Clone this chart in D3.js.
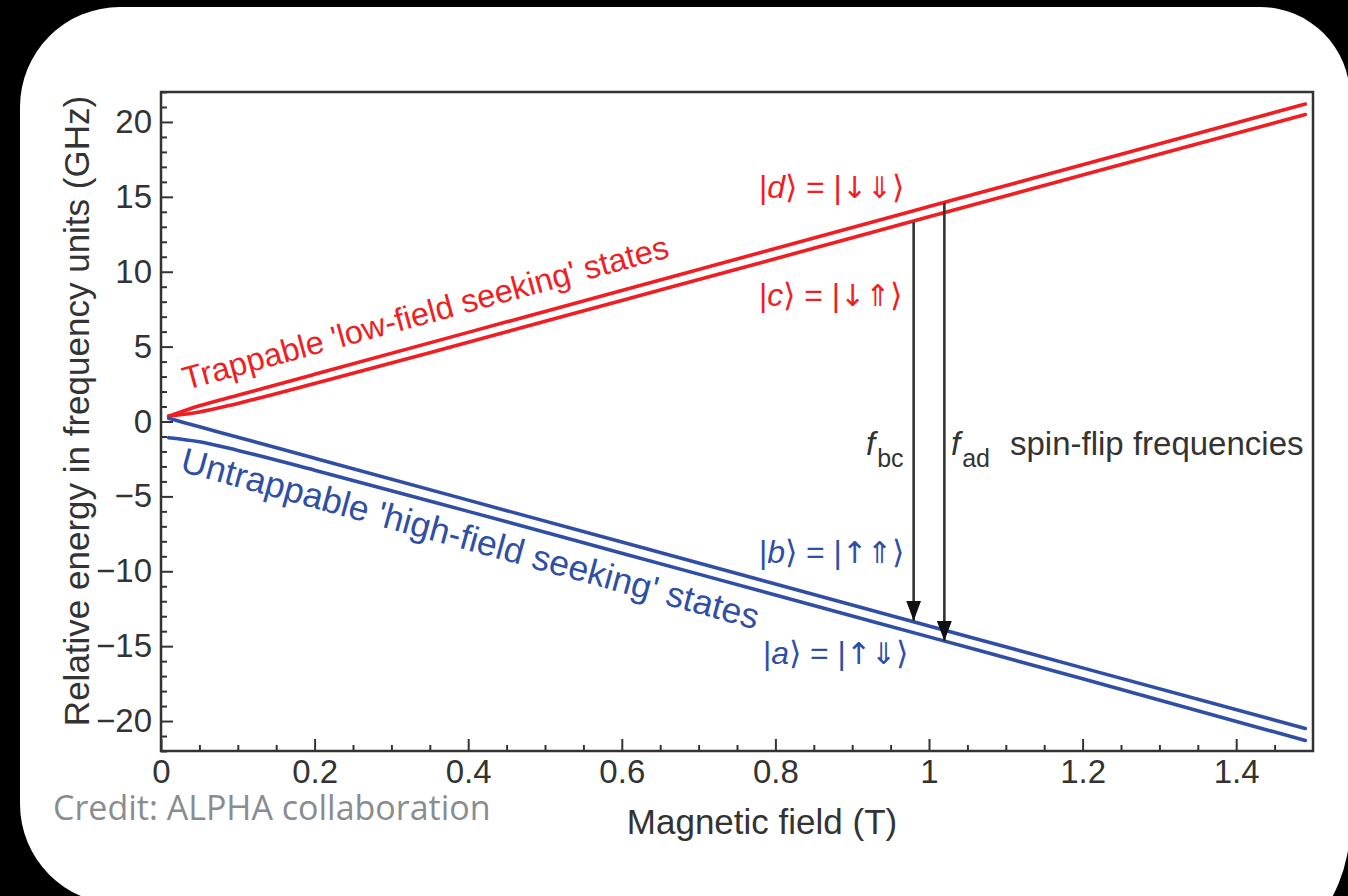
<!DOCTYPE html>
<html>
<head>
<meta charset="utf-8">
<script src="https://cdn.jsdelivr.net/npm/d3@7"></script>
<style>
  html, body { margin: 0; padding: 0; background: #000; }
  svg { display: block; }
  text { font-family: "Liberation Sans", Arial, Helvetica, sans-serif; }
</style>
</head>
<body>
<svg id="chart" width="1348" height="896"></svg>
<script>
// Magnetic field values (T) at which the four hyperfine levels are sampled
const fieldT = [0.01, 0.05, 0.1, 0.2, 0.4, 0.6, 0.8, 1.0, 1.2, 1.49];

// Relative energy of each state, in frequency units (GHz)
const stateD = [0.35, 1.05, 1.75, 3.15, 5.95, 8.75, 11.55, 14.35, 17.15, 21.2];
const stateC = [0.37, 0.64, 1.21, 2.53, 5.29, 8.08, 10.87, 13.67, 16.46, 20.5];
const stateB = [0.21, -0.35, -1.05, -2.45, -5.25, -8.05, -10.85, -13.65, -16.45, -20.5];
const stateA = [-1.08, -1.35, -1.93, -3.25, -6.0, -8.79, -11.59, -14.38, -17.17, -21.3];

// Spin-flip transitions: field, upper level energy, lower level energy
const flipNames = ["bc", "ad"];
const flipField = [0.98, 1.02];
const flipFrom = [13.3, 14.6];
const flipTo = [-13.3, -14.65];

// Axis ticks
const xTicks = [0, 0.2, 0.4, 0.6, 0.8, 1.0, 1.2, 1.4];
const yTicks = [-20, -15, -10, -5, 0, 5, 10, 15, 20];

const RED = "#f01e23";
const BLUE = "#2f4fa6";
const INK = "#333333";

const svg = d3.select("#chart");

// Rounded white card on the black page
svg.append("path")
  .attr("d", "M20,107 A100,100 0 0 1 120,7 L1260,7 A90,90 0 0 1 1350,97 L1350,826 A150,150 0 0 1 1200,976 L120,976 L120,904 A100,100 0 0 1 20,804 Z")
  .attr("fill", "#fff");

const x = d3.scaleLinear().domain([0, 1.5]).range([161, 1313]);
const y = d3.scaleLinear().domain([-22, 22]).range([751, 92]);

// Minor ticks
svg.append("g")
  .attr("transform", `translate(0,${y(-22)})`)
  .call(d3.axisBottom(x).tickValues(d3.range(0, 1.5, 0.05).filter(v => Math.abs(v * 5 - Math.round(v * 5)) > 1e-6)).tickSize(-6).tickFormat(""))
  .call(g => g.select(".domain").remove())
  .call(g => g.selectAll("line").attr("stroke", INK).attr("stroke-width", 2));
svg.append("g")
  .attr("transform", `translate(${x(0)},0)`)
  .call(d3.axisLeft(y).tickValues(d3.range(-22, 23, 1).filter(v => v % 5 !== 0)).tickSize(-6).tickFormat(""))
  .call(g => g.select(".domain").remove())
  .call(g => g.selectAll("line").attr("stroke", INK).attr("stroke-width", 2));

// Major ticks and labels
const xAxis = svg.append("g")
  .attr("transform", `translate(0,${y(-22)})`)
  .call(d3.axisBottom(x).tickValues(xTicks).tickSize(-12).tickPadding(9).tickFormat(d3.format("~g")));
const yAxis = svg.append("g")
  .attr("transform", `translate(${x(0)},0)`)
  .call(d3.axisLeft(y).tickValues(yTicks).tickSize(-12).tickPadding(9));
[xAxis, yAxis].forEach(g => {
  g.select(".domain").remove();
  g.selectAll("line").attr("stroke", INK).attr("stroke-width", 2);
  g.selectAll("text").attr("fill", INK).style("font-size", "33px")
    .style("font-family", "'Liberation Sans', Arial, sans-serif");
});

// Plot frame
svg.append("rect")
  .attr("x", x(0)).attr("y", y(22))
  .attr("width", x(1.5) - x(0)).attr("height", y(-22) - y(22))
  .attr("fill", "none").attr("stroke", INK).attr("stroke-width", 2.5);

// Energy levels
const line = d3.line()
  .x((d, i) => x(fieldT[i]))
  .y(d => y(d))
  .curve(d3.curveMonotoneX);
[[stateD, RED], [stateC, RED], [stateB, BLUE], [stateA, BLUE]].forEach(([vals, col]) => {
  svg.append("path")
    .attr("d", line(vals))
    .attr("fill", "none")
    .attr("stroke", col)
    .attr("stroke-width", 3.6)
    .attr("stroke-linecap", "round");
});

// Arrowhead
svg.append("defs").append("marker")
  .attr("id", "head")
  .attr("markerUnits", "userSpaceOnUse")
  .attr("viewBox", "0 -8 21 16")
  .attr("refX", 20).attr("refY", 0)
  .attr("markerWidth", 21).attr("markerHeight", 16)
  .attr("orient", "auto")
  .append("path")
  .attr("d", "M0,-7.5 L20,0 L0,7.5 Z")
  .attr("fill", "#111");

flipNames.forEach((n, i) => {
  svg.append("line")
    .attr("x1", x(flipField[i])).attr("x2", x(flipField[i]))
    .attr("y1", y(flipFrom[i])).attr("y2", y(flipTo[i]))
    .attr("stroke", INK).attr("stroke-width", 2.6)
    .attr("marker-end", "url(#head)");
});

// Transition labels
function freqLabel(px, name) {
  const t = svg.append("text").attr("x", px).attr("y", 455).attr("fill", INK).style("font-size", "33px");
  t.append("tspan").style("font-style", "italic").text("f");
  t.append("tspan").attr("dx", 2).attr("dy", 12).style("font-size", "25px").text(name);
  return t;
}
freqLabel(866, flipNames[0]);
freqLabel(951, flipNames[1]);
svg.append("text").attr("x", 1010).attr("y", 455).attr("fill", INK)
  .style("font-size", "33px").text("spin-flip frequencies");

// State labels
function ket(px, py, letter, spins, col) {
  const t = svg.append("text").attr("x", px).attr("y", py).attr("fill", col).style("font-size", "32px");
  t.append("tspan").text("|");
  t.append("tspan").style("font-style", "italic").text(letter);
  t.append("tspan").text("\u27E9 = |");
  t.append("tspan").style("font-family", "'DejaVu Sans', sans-serif").style("font-size", "30px").text(spins);
  t.append("tspan").text("\u27E9");
}
ket(759, 198, "d", "\u2193\u21D3", RED);
ket(759, 306, "c", "\u2193\u21D1", RED);
ket(759, 563, "b", "\u2191\u21D1", BLUE);
ket(763, 664, "a", "\u2191\u21D3", BLUE);

// Group captions along the level pairs
const slope = Math.atan2(y(stateD[9]) - y(stateD[0]), x(fieldT[9]) - x(fieldT[0])) * 180 / Math.PI;
svg.append("text")
  .attr("transform", `translate(186,390) rotate(${slope})`)
  .attr("fill", RED).style("font-size", "32.5px")
  .text("Trappable 'low-field seeking' states");
svg.append("text")
  .attr("transform", `translate(179,471) rotate(${-slope})`)
  .attr("fill", BLUE).style("font-size", "35.5px")
  .text("Untrappable 'high-field seeking' states");

// Axis titles
svg.append("text")
  .attr("x", 762).attr("y", 834)
  .attr("text-anchor", "middle").attr("fill", INK)
  .style("font-size", "35px")
  .text("Magnetic field (T)");
svg.append("text")
  .attr("transform", "translate(89,411) rotate(-90)")
  .attr("text-anchor", "middle").attr("fill", INK)
  .style("font-size", "35px")
  .text("Relative energy in frequency units (GHz)");

// Credit line
svg.append("text")
  .attr("x", 53).attr("y", 820)
  .attr("fill", "#8a8c90")
  .style("font-family", "'Open Sans', 'DejaVu Sans', sans-serif")
  .style("font-size", "34px")
  .text("Credit: ALPHA collaboration");
</script>
</body>
</html>
